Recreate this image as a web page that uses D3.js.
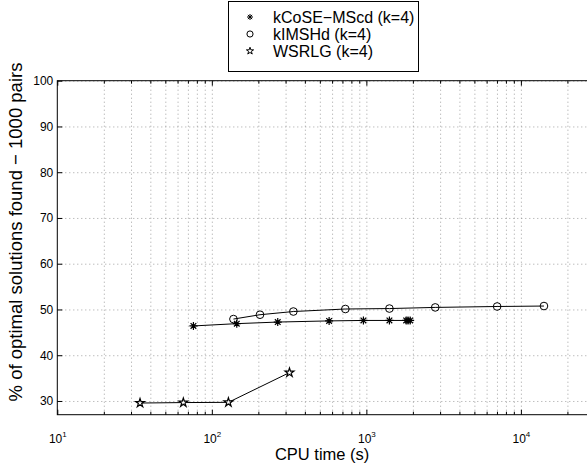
<!DOCTYPE html>
<html>
<head>
<meta charset="utf-8">
<script src="https://cdn.jsdelivr.net/npm/d3@7"></script>
<style>
  body { margin: 0; background: #fff; }
  svg { display: block; font-family: "Liberation Sans", Arial, sans-serif; }
</style>
</head>
<body>
<div id="wrapper"></div>
<script>
// data
const seriesNames = ["kCoSE\u2212MScd (k=4)", "kIMSHd (k=4)", "WSRLG (k=4)"];
const kcoseTime = [76, 145, 267, 574, 957, 1410, 1810, 1860, 1920];
const kcoseOpt  = [46.4, 46.9, 47.25, 47.5, 47.6, 47.6, 47.6, 47.6, 47.6];
const kimsTime  = [138, 205, 337, 731, 1410, 2790, 7020, 14100];
const kimsOpt   = [47.9, 48.85, 49.55, 50.1, 50.2, 50.45, 50.65, 50.75];
const wsrlgTime = [34.3, 65.4, 128, 318];
const wsrlgOpt  = [29.55, 29.65, 29.7, 36.2];
const yTicks = [30, 40, 50, 60, 70, 80, 90, 100];
const xMajor = [10, 100, 1000, 10000];

function buildPlot() {
    var dimension = {
        width: 587,
        height: 466,
        margin: { top: 80.7, left: 57.3, bottom: 51.3, right: -3 }
    };
    dimension.boundedWidth = dimension.width - dimension.margin.left - dimension.margin.right;
    dimension.boundedHeight = dimension.height - dimension.margin.top - dimension.margin.bottom;

    const svg = d3.select("#wrapper").append("svg")
        .attr("width", dimension.width)
        .attr("height", dimension.height);

    const bounded = svg.append("g")
        .attr("transform", `translate(${dimension.margin.left},${dimension.margin.top})`);

    const xScaler = d3.scaleLog()
        .domain([10, 28000])
        .range([0, dimension.boundedWidth]);
    const yScaler = d3.scaleLinear()
        .domain([27, 100])
        .range([dimension.boundedHeight, 0]);

    // minor + major log ticks
    const xAll = [];
    xMajor.forEach(m => { for (let k = 1; k < 10; k++) if (m * k <= 28000) xAll.push(m * k); });
    const xMinor = xAll.filter(v => !xMajor.includes(v));

    // grid
    const gridX = bounded.append("g")
        .attr("transform", `translate(0,${dimension.boundedHeight})`)
        .call(d3.axisBottom(xScaler).tickValues(xAll.filter(v => v > 10)).tickSize(-dimension.boundedHeight).tickFormat(""));
    const gridY = bounded.append("g")
        .call(d3.axisLeft(yScaler).tickValues(yTicks).tickSize(-dimension.boundedWidth).tickFormat(""));
    [gridX, gridY].forEach(g => {
        g.select(".domain").remove();
        g.selectAll("line").attr("stroke", "#8a8a8a").attr("stroke-width", 0.8).attr("stroke-dasharray", "1,3");
    });

    // inward ticks
    const tickStyle = g => {
        g.attr("font-family", null).attr("font-size", null);
        g.select(".domain").remove();
        g.selectAll("line").attr("stroke", "#000");
    };
    bounded.append("g").attr("transform", `translate(0,${dimension.boundedHeight})`)
        .call(d3.axisBottom(xScaler).tickValues(xMinor).tickSize(-3).tickFormat("")).call(tickStyle);
    bounded.append("g")
        .call(d3.axisTop(xScaler).tickValues(xMinor).tickSize(-3).tickFormat("")).call(tickStyle);
    bounded.append("g")
        .call(d3.axisTop(xScaler).tickValues(xMajor).tickSize(-5).tickFormat("")).call(tickStyle);

    const xAxisGroup = bounded.append("g")
        .attr("transform", `translate(0,${dimension.boundedHeight})`)
        .call(d3.axisBottom(xScaler).tickValues(xMajor).tickSize(-5).tickPadding(0).tickFormat(""))
        .call(tickStyle);
    xAxisGroup.selectAll(".tick text").remove();
    xAxisGroup.selectAll(".tick").append("text")
        .attr("y", 28)
        .attr("fill", "#000")
        .attr("font-size", 12)
        .attr("text-anchor", "middle")
        .each(function(d) {
            const t = d3.select(this);
            t.append("tspan").text("10");
            t.append("tspan").attr("font-size", 8).attr("dy", -6).text(Math.round(Math.log10(d)));
        });

    const yAxisGroup = bounded.append("g")
        .call(d3.axisLeft(yScaler).tickValues(yTicks).tickSize(-5).tickPadding(4))
        .call(tickStyle);
    yAxisGroup.selectAll("text").attr("font-size", 12).attr("fill", "#000");

    // box
    bounded.append("rect")
        .attr("width", dimension.boundedWidth)
        .attr("height", dimension.boundedHeight)
        .attr("fill", "none")
        .attr("stroke", "#000")
        .attr("stroke-width", 1);

    // series
    const asterisk = {
        draw(ctx, size) {
            const r = Math.sqrt(size) / 2;
            const d = r * Math.SQRT1_2;
            ctx.moveTo(-r, 0); ctx.lineTo(r, 0);
            ctx.moveTo(0, -r); ctx.lineTo(0, r);
            ctx.moveTo(-d, -d); ctx.lineTo(d, d);
            ctx.moveTo(-d, d); ctx.lineTo(d, -d);
        }
    };
    const series = [
        { name: seriesNames[0], x: kcoseTime, y: kcoseOpt, sym: d3.symbol(asterisk, 64), fill: "none", sw: 1.2 },
        { name: seriesNames[1], x: kimsTime, y: kimsOpt, sym: d3.symbol(d3.symbolCircle, 46), fill: "none", sw: 1 },
        { name: seriesNames[2], x: wsrlgTime, y: wsrlgOpt, sym: d3.symbol(d3.symbolStar, 24), fill: "#fff", sw: 1.2 }
    ];
    const legendSym = [d3.symbol(asterisk, 36), d3.symbol(d3.symbolCircle, 30), d3.symbol(d3.symbolStar, 16)];

    const line = d3.line()
        .x(d => xScaler(d[0]))
        .y(d => yScaler(d[1]));

    series.forEach(s => {
        const pts = s.x.map((v, i) => [v, s.y[i]]);
        bounded.append("path")
            .attr("d", line(pts))
            .attr("fill", "none")
            .attr("stroke", "#000")
            .attr("stroke-width", 1);
        bounded.append("g").selectAll("path")
            .data(pts)
            .join("path")
            .attr("transform", d => `translate(${xScaler(d[0])},${yScaler(d[1])})`)
            .attr("d", s.sym)
            .attr("fill", s.fill)
            .attr("stroke", "#000")
            .attr("stroke-width", s.sw);
    });

    // axis labels
    svg.append("text")
        .attr("x", 57.3 + (587 - 57.3) / 2)
        .attr("y", 460)
        .attr("text-anchor", "middle")
        .attr("font-size", 16.5)
        .text("CPU time (s)");
    svg.append("text")
        .attr("transform", "translate(22,232) rotate(-90)")
        .attr("text-anchor", "middle")
        .attr("font-size", 18.5)
        .text("% of optimal solutions found \u2212 1000 pairs");

    // legend
    const legend = svg.append("g");
    legend.append("rect")
        .attr("x", 228.5).attr("y", 1.5)
        .attr("width", 190).attr("height", 70)
        .attr("fill", "#fff")
        .attr("stroke", "#000");
    series.forEach((s, i) => {
        const cy = 17 + i * 17;
        legend.append("path")
            .attr("transform", `translate(250,${cy})`)
            .attr("d", legendSym[i])
            .attr("fill", s.fill)
            .attr("stroke", "#000")
            .attr("stroke-width", 1);
        legend.append("text")
            .attr("x", 273)
            .attr("y", cy + 5.8)
            .attr("font-size", 16)
            .text(s.name);
    });
}

buildPlot();
</script>
</body>
</html>
